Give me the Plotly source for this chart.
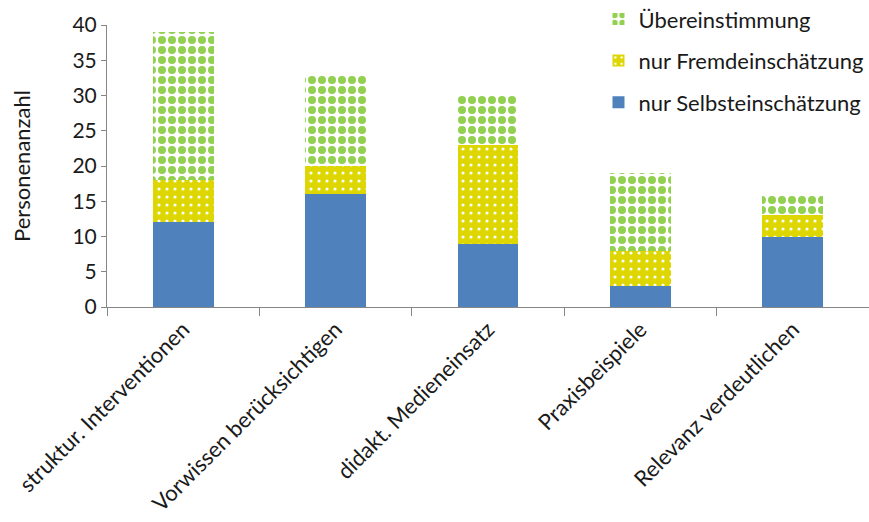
import plotly.graph_objects as go

categories = ["struktur. Interventionen", "Vorwissen berücksichtigen", "didakt. Medieneinsatz",
              "Praxisbeispiele", "Relevanz verdeutlichen"]
selbst = [12, 16, 9, 3, 10]
fremd = [6, 4, 14, 5, 3]
ueber = [21, 13, 7, 11, 3]
y_ticks = [0, 5, 10, 15, 20, 25, 30, 35, 40]

FONT = "Lato"
fig = go.Figure()
fig.add_bar(x=categories, y=selbst, name="nur Selbsteinschätzung", legendgroup="a",
            legendrank=3,
            marker=dict(color="#4F81BD", line=dict(width=0)))
fig.add_bar(x=categories, y=fremd, name="nur Fremdeinschätzung", legendgroup="b",
            legendrank=2,
            marker=dict(color="#DDD600", line=dict(width=0),
                        pattern=dict(shape=".", fgcolor="white", bgcolor="#DDD600",
                                     size=8, solidity=0.12, fillmode="replace")))
fig.add_bar(x=categories, y=ueber, name="Übereinstimmung", legendgroup="c",
            legendrank=1,
            marker=dict(color="#92D050", line=dict(width=0),
                        pattern=dict(shape=".", fgcolor="#92D050", bgcolor="white",
                                     size=10, solidity=0.5, fillmode="replace")))

fig.update_layout(
    barmode="stack", bargap=0.6,
    width=869, height=522,
    margin=dict(l=107, r=0, t=25, b=215, autoexpand=False),
    plot_bgcolor="white", paper_bgcolor="white",
    font=dict(family=FONT, size=22, color="#1a1a1a"),
    legend=dict(x=0.645, y=1.095, xanchor="left", yanchor="top",
                traceorder="grouped",
                font=dict(size=22), itemsizing="constant", tracegroupgap=10,
                bgcolor="rgba(0,0,0,0)"),
    showlegend=True,
)
fig.update_yaxes(range=[0, 40], tickvals=y_ticks, showgrid=False, zeroline=False,
                 showline=True, linecolor="#868686", linewidth=1, automargin=False,
                 ticks="outside", ticklen=5, tickcolor="#868686",
                 title=dict(text="Personenanzahl", font=dict(size=22), standoff=35),
                 tickfont=dict(size=21))
fig.update_xaxes(showgrid=False, showline=True, linecolor="#868686", linewidth=1,
                 automargin=False,
                 ticks="outside", ticklen=8, tickcolor="#868686", tickson="boundaries",
                 tickangle=-45, tickfont=dict(size=22))

fig.write_html("out.html", config={"displayModeBar": False},
               post_script="document.body.style.margin='0';")
